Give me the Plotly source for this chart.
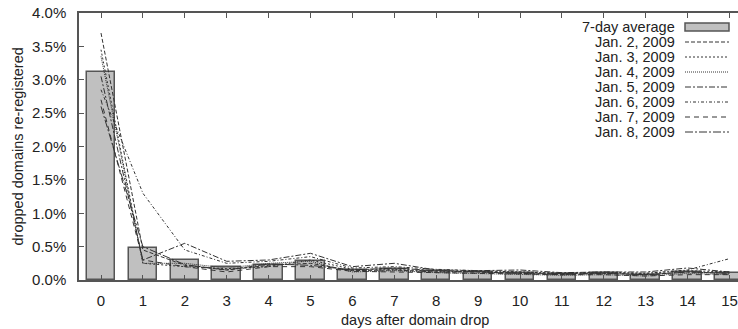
import plotly.graph_objects as go

days = list(range(16))
avg_7day = [3.11, 0.475, 0.30, 0.19, 0.225, 0.28, 0.15, 0.17, 0.13, 0.12, 0.10, 0.09, 0.10, 0.08, 0.12, 0.10]

series_names = ["Jan. 2, 2009", "Jan. 3, 2009", "Jan. 4, 2009", "Jan. 5, 2009",
                "Jan. 6, 2009", "Jan. 7, 2009", "Jan. 8, 2009"]
jan2 = [3.70, 0.45, 0.22, 0.15, 0.22, 0.25, 0.14, 0.15, 0.12, 0.12, 0.10, 0.08, 0.10, 0.08, 0.12, 0.10]
jan3 = [3.45, 0.25, 0.20, 0.17, 0.20, 0.30, 0.16, 0.16, 0.13, 0.13, 0.12, 0.10, 0.12, 0.10, 0.14, 0.12]
jan4 = [3.35, 0.25, 0.25, 0.18, 0.25, 0.28, 0.12, 0.14, 0.11, 0.10, 0.08, 0.07, 0.08, 0.06, 0.10, 0.08]
jan5 = [3.05, 0.30, 0.55, 0.28, 0.30, 0.40, 0.20, 0.25, 0.15, 0.14, 0.15, 0.11, 0.12, 0.12, 0.18, 0.12]
jan6 = [2.85, 1.30, 0.45, 0.25, 0.28, 0.35, 0.18, 0.20, 0.16, 0.14, 0.12, 0.10, 0.10, 0.10, 0.15, 0.32]
jan7 = [2.70, 0.30, 0.20, 0.12, 0.20, 0.20, 0.13, 0.12, 0.10, 0.10, 0.08, 0.08, 0.08, 0.06, 0.08, 0.08]
jan8 = [2.60, 0.50, 0.23, 0.15, 0.24, 0.22, 0.15, 0.18, 0.14, 0.12, 0.10, 0.10, 0.10, 0.08, 0.12, 0.10]
series_values = [jan2, jan3, jan4, jan5, jan6, jan7, jan8]

y_ticks = [0, 0.5, 1, 1.5, 2, 2.5, 3, 3.5, 4]

dashes = ["4px,2px", "2px,2px", "1px,1px", "6px,2px,2px,2px", "3px,2px,1px,2px", "5px,4px", "8px,2px,2px,2px"]
line_color = "#333333"
font = "Liberation Sans, Arial, sans-serif"

fig = go.Figure()
fig.add_trace(go.Bar(x=days, y=avg_7day, width=0.68, name="7-day average",
                     marker=dict(color="#c0c0c0", line=dict(color="#555555", width=1.5)),
                     showlegend=False))
for name, vals, d in zip(series_names, series_values, dashes):
    fig.add_trace(go.Scatter(x=days, y=vals, mode="lines", name=name,
                             line=dict(color=line_color, width=1, dash=d),
                             showlegend=False))

# plot geometry (pixels)
L, T, B = 79, 13, 49
W, H = 738, 329
pw, ph = W - L, H - T - B

def px_x(p):
    return (p - L) / pw

def px_y(p):
    return (H - B - p) / ph

# manual legend: text right-aligned, sample on the right
legend_labels = ["7-day average"] + series_names
shapes = []
annotations = []
row0 = 27
for i, lab in enumerate(legend_labels):
    yc = row0 + i * 15
    annotations.append(dict(text=lab, x=px_x(677), y=px_y(yc), xref="paper", yref="paper",
                            xanchor="right", yanchor="middle", showarrow=False,
                            font=dict(family=font, size=14.5, color="#222222")))
    if i == 0:
        shapes.append(dict(type="rect", xref="paper", yref="paper",
                           x0=px_x(685), x1=px_x(729), y0=px_y(yc - 4), y1=px_y(yc + 4),
                           fillcolor="#c0c0c0", line=dict(color="#555555", width=1.5)))
    else:
        shapes.append(dict(type="line", xref="paper", yref="paper",
                           x0=px_x(685), x1=px_x(729), y0=px_y(yc), y1=px_y(yc),
                           line=dict(color=line_color, width=1, dash=dashes[i - 1])))

annotations.append(dict(text="days after domain drop", x=7.5, xref="x", y=px_y(320), yref="paper",
                        xanchor="center", yanchor="middle", showarrow=False,
                        font=dict(family=font, size=14.5, color="#222222")))
annotations.append(dict(text="dropped domains re-registered", x=px_x(17), xref="paper",
                        y=0.5, yref="paper", textangle=-90, xanchor="center", yanchor="middle",
                        showarrow=False, font=dict(family=font, size=14.5, color="#222222")))

fig.update_layout(
    width=W, height=H,
    margin=dict(l=L, r=0, t=T, b=B, pad=0),
    plot_bgcolor="white", paper_bgcolor="white",
    font=dict(family=font, size=15, color="#222222"),
    shapes=shapes, annotations=annotations,
    bargap=0,
)
fig.update_xaxes(range=[-0.525, (W - 101) / 41.9], tickmode="array", tickvals=days,
                 ticktext=[str(d) for d in days], ticks="inside", ticklen=5, tickcolor="#555555",
                 showline=True, linecolor="#555555", linewidth=1.5, mirror="ticks",
                 showgrid=False, zeroline=False, ticklabelstandoff=6,
                 tickfont=dict(family=font, size=15, color="#222222"))
fig.update_yaxes(range=[0, 4], tickmode="array", tickvals=y_ticks,
                 ticktext=[f"{v:.1f}%" for v in y_ticks], ticks="inside", ticklen=5,
                 tickcolor="#555555", showline=True, linecolor="#555555", linewidth=1.5,
                 mirror=False, showgrid=False, zeroline=False, ticklabelstandoff=8,
                 tickfont=dict(family=font, size=15, color="#222222"))

fig.write_html("out.html")
